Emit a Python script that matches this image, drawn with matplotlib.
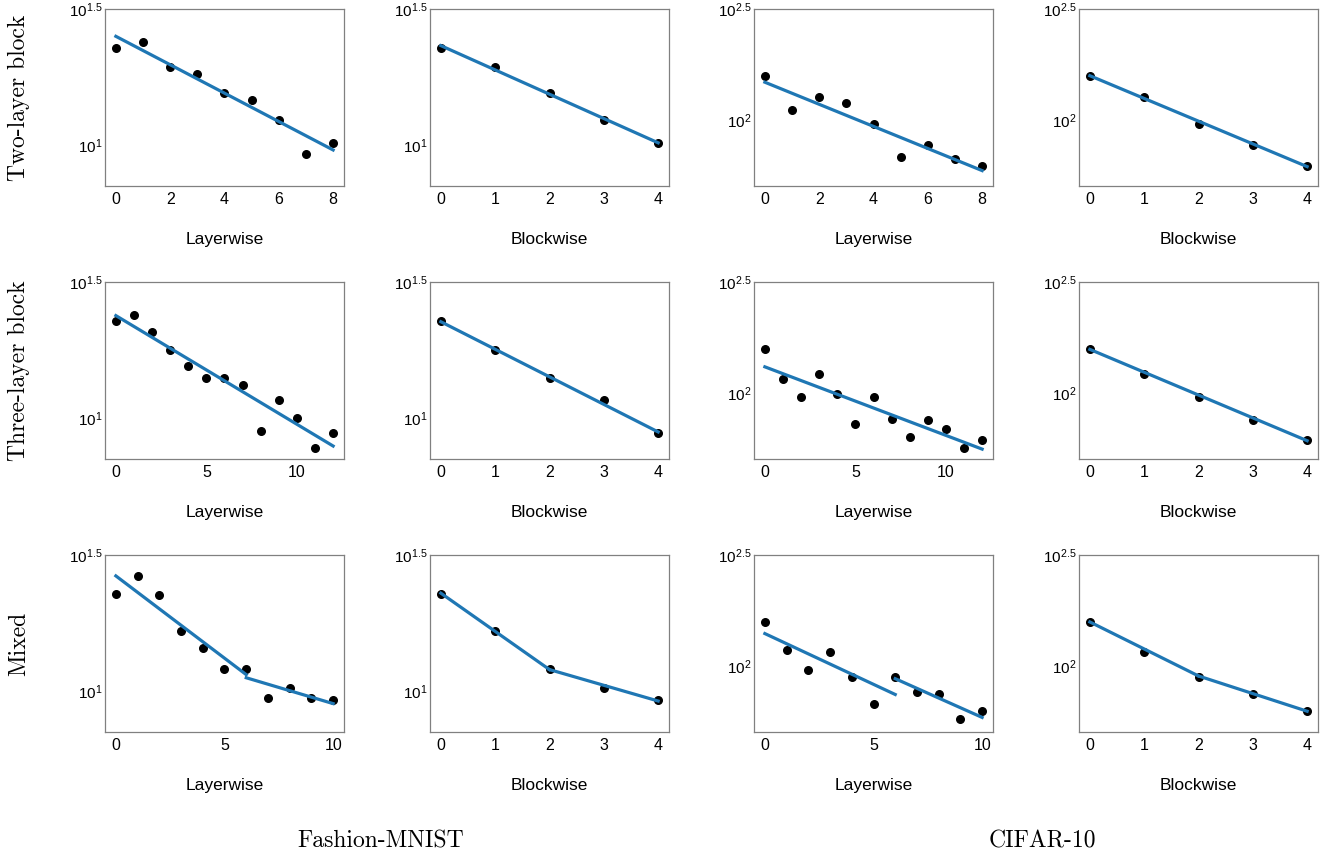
import numpy as np
import matplotlib
matplotlib.use("Agg")
import matplotlib.pyplot as plt

plt.rcParams['font.family'] = ['Liberation Sans', 'DejaVu Sans']
plt.rcParams['mathtext.fontset'] = 'custom'
plt.rcParams['mathtext.rm'] = 'Liberation Sans'
plt.rcParams['mathtext.it'] = 'Liberation Sans:italic'

# Fashion-MNIST, values
fm_two_layer = [22.7, 23.9, 19.3, 18.3, 15.6, 14.6, 12.4, 9.3, 10.2]
fm_two_block = [22.7, 19.3, 15.6, 12.4, 10.2]
fm_three_layer = [22.8, 23.9, 20.7, 17.8, 15.6, 14.1, 14.0, 13.2, 9.0, 11.7, 10.0, 7.8, 8.8]
fm_three_block = [22.8, 17.8, 14.0, 11.7, 8.8]
fm_mixed_layer = [22.7, 26.5, 22.5, 16.7, 14.4, 12.1, 12.1, 9.4, 10.3, 9.4, 9.3]
fm_mixed_block = [22.7, 16.7, 12.1, 10.3, 9.3]

# CIFAR-10
cf_two_layer = [158.9, 111.2, 127.6, 120.5, 97.0, 68.5, 77.6, 67.3, 62.7]
cf_two_block = [158.9, 127.9, 96.6, 77.6, 62.7]
cf_three_layer = [158.9, 115.9, 97.0, 122.5, 99.8, 73.3, 97.0, 76.9, 64.1, 76.4, 69.3, 57.0, 61.9]
cf_three_block = [158.9, 122.5, 97.0, 76.4, 61.9]
cf_mixed_layer = [158.5, 118.9, 96.6, 116.7, 89.9, 68.2, 89.9, 76.7, 75.7, 58.5, 63.1]
cf_mixed_block = [158.5, 116.7, 89.9, 75.7, 63.1]

# fitted lines: list of segments (x0, x1, y0, y1)
fm_two_layer_fit = [(0, 8, 25.1, 9.6)]
fm_two_block_fit = [(0, 4, 23.2, 10.2)]
fm_three_layer_fit = [(0, 12, 23.8, 7.9)]
fm_three_block_fit = [(0, 4, 22.6, 8.9)]
fm_mixed_layer_fit = [(0, 6, 26.5, 11.5), (6, 10, 11.2, 9.0)]
fm_mixed_block_fit = [(0, 2, 22.9, 12.0), (2, 4, 12.0, 9.2)]
cf_two_layer_fit = [(0, 8, 148.6, 59.7)]
cf_two_block_fit = [(0, 4, 158.9, 62.2)]
cf_three_layer_fit = [(0, 12, 131.8, 56.4)]
cf_three_block_fit = [(0, 4, 157.8, 61.5)]
cf_mixed_layer_fit = [(0, 6, 140.6, 75.0), (6, 10, 88.3, 59.2)]
cf_mixed_block_fit = [(0, 2, 158.5, 90.8), (2, 4, 90.8, 63.1)]

row_names = ['Two-layer block', 'Three-layer block', 'Mixed']
col_names = ['Layerwise', 'Blockwise', 'Layerwise', 'Blockwise']
datasets = ['Fashion-MNIST', 'CIFAR-10']

grid = [
    [(fm_two_layer, fm_two_layer_fit), (fm_two_block, fm_two_block_fit),
     (cf_two_layer, cf_two_layer_fit), (cf_two_block, cf_two_block_fit)],
    [(fm_three_layer, fm_three_layer_fit), (fm_three_block, fm_three_block_fit),
     (cf_three_layer, cf_three_layer_fit), (cf_three_block, cf_three_block_fit)],
    [(fm_mixed_layer, fm_mixed_layer_fit), (fm_mixed_block, fm_mixed_block_fit),
     (cf_mixed_layer, cf_mixed_layer_fit), (cf_mixed_block, cf_mixed_block_fit)],
]

W, H = 1330, 857
fig = plt.figure(figsize=(W / 100, H / 100), dpi=100)

col_left = [105, 430, 754, 1079]
row_top = [9, 282, 555]
ax_w, ax_h = 239, 177

for r in range(3):
    for c in range(4):
        vals, fit = grid[r][c]
        ax = fig.add_axes([col_left[c] / W, 1 - (row_top[r] + ax_h) / H, ax_w / W, ax_h / H])
        x = np.arange(len(vals))
        ax.scatter(x, vals, s=30, color='black', zorder=2)
        for x0, x1, y0, y1 in fit:
            ax.plot([x0, x1], [y0, y1], color='#1f77b4', lw=2.3, zorder=3)
        ax.set_yscale('log')
        ax.minorticks_off()
        if c < 2:
            ax.set_ylim(10 ** 0.85, 10 ** 1.5)
            ax.set_yticks([10, 10 ** 1.5])
            ax.set_yticklabels(['$10^{1}$', '$10^{1.5}$'])
        else:
            ax.set_ylim(10 ** 1.707, 10 ** 2.5)
            ax.set_yticks([100, 10 ** 2.5])
            ax.set_yticklabels(['$10^{2}$', '$10^{2.5}$'])
        n = len(vals) - 1
        if n == 4:
            ax.set_xticks([0, 1, 2, 3, 4])
        elif n == 8:
            ax.set_xticks([0, 2, 4, 6, 8])
        else:
            ax.set_xticks([0, 5, 10])
        ax.tick_params(axis='x', length=0, pad=4, labelsize=11.5)
        ax.tick_params(axis='y', length=0, pad=2, labelsize=11)
        for sp in ax.spines.values():
            sp.set_color('#808080')
            sp.set_linewidth(0.9)
        ax.set_xlabel(col_names[c], fontsize=12.5)
        ax.xaxis.set_label_coords(0.5, -0.26)
        if c == 0:
            fig.text(19 / W, 1 - (row_top[r] + ax_h / 2) / H, row_names[r],
                     family='cmr10', fontsize=17, rotation=90, ha='center', va='center')

fig.text(381 / W, 1 - 841 / H, datasets[0], family='cmr10', fontsize=17, ha='center', va='center')
fig.text(1042 / W, 1 - 841 / H, datasets[1], family='cmr10', fontsize=17, ha='center', va='center')

fig.savefig('out.png', dpi=100)
